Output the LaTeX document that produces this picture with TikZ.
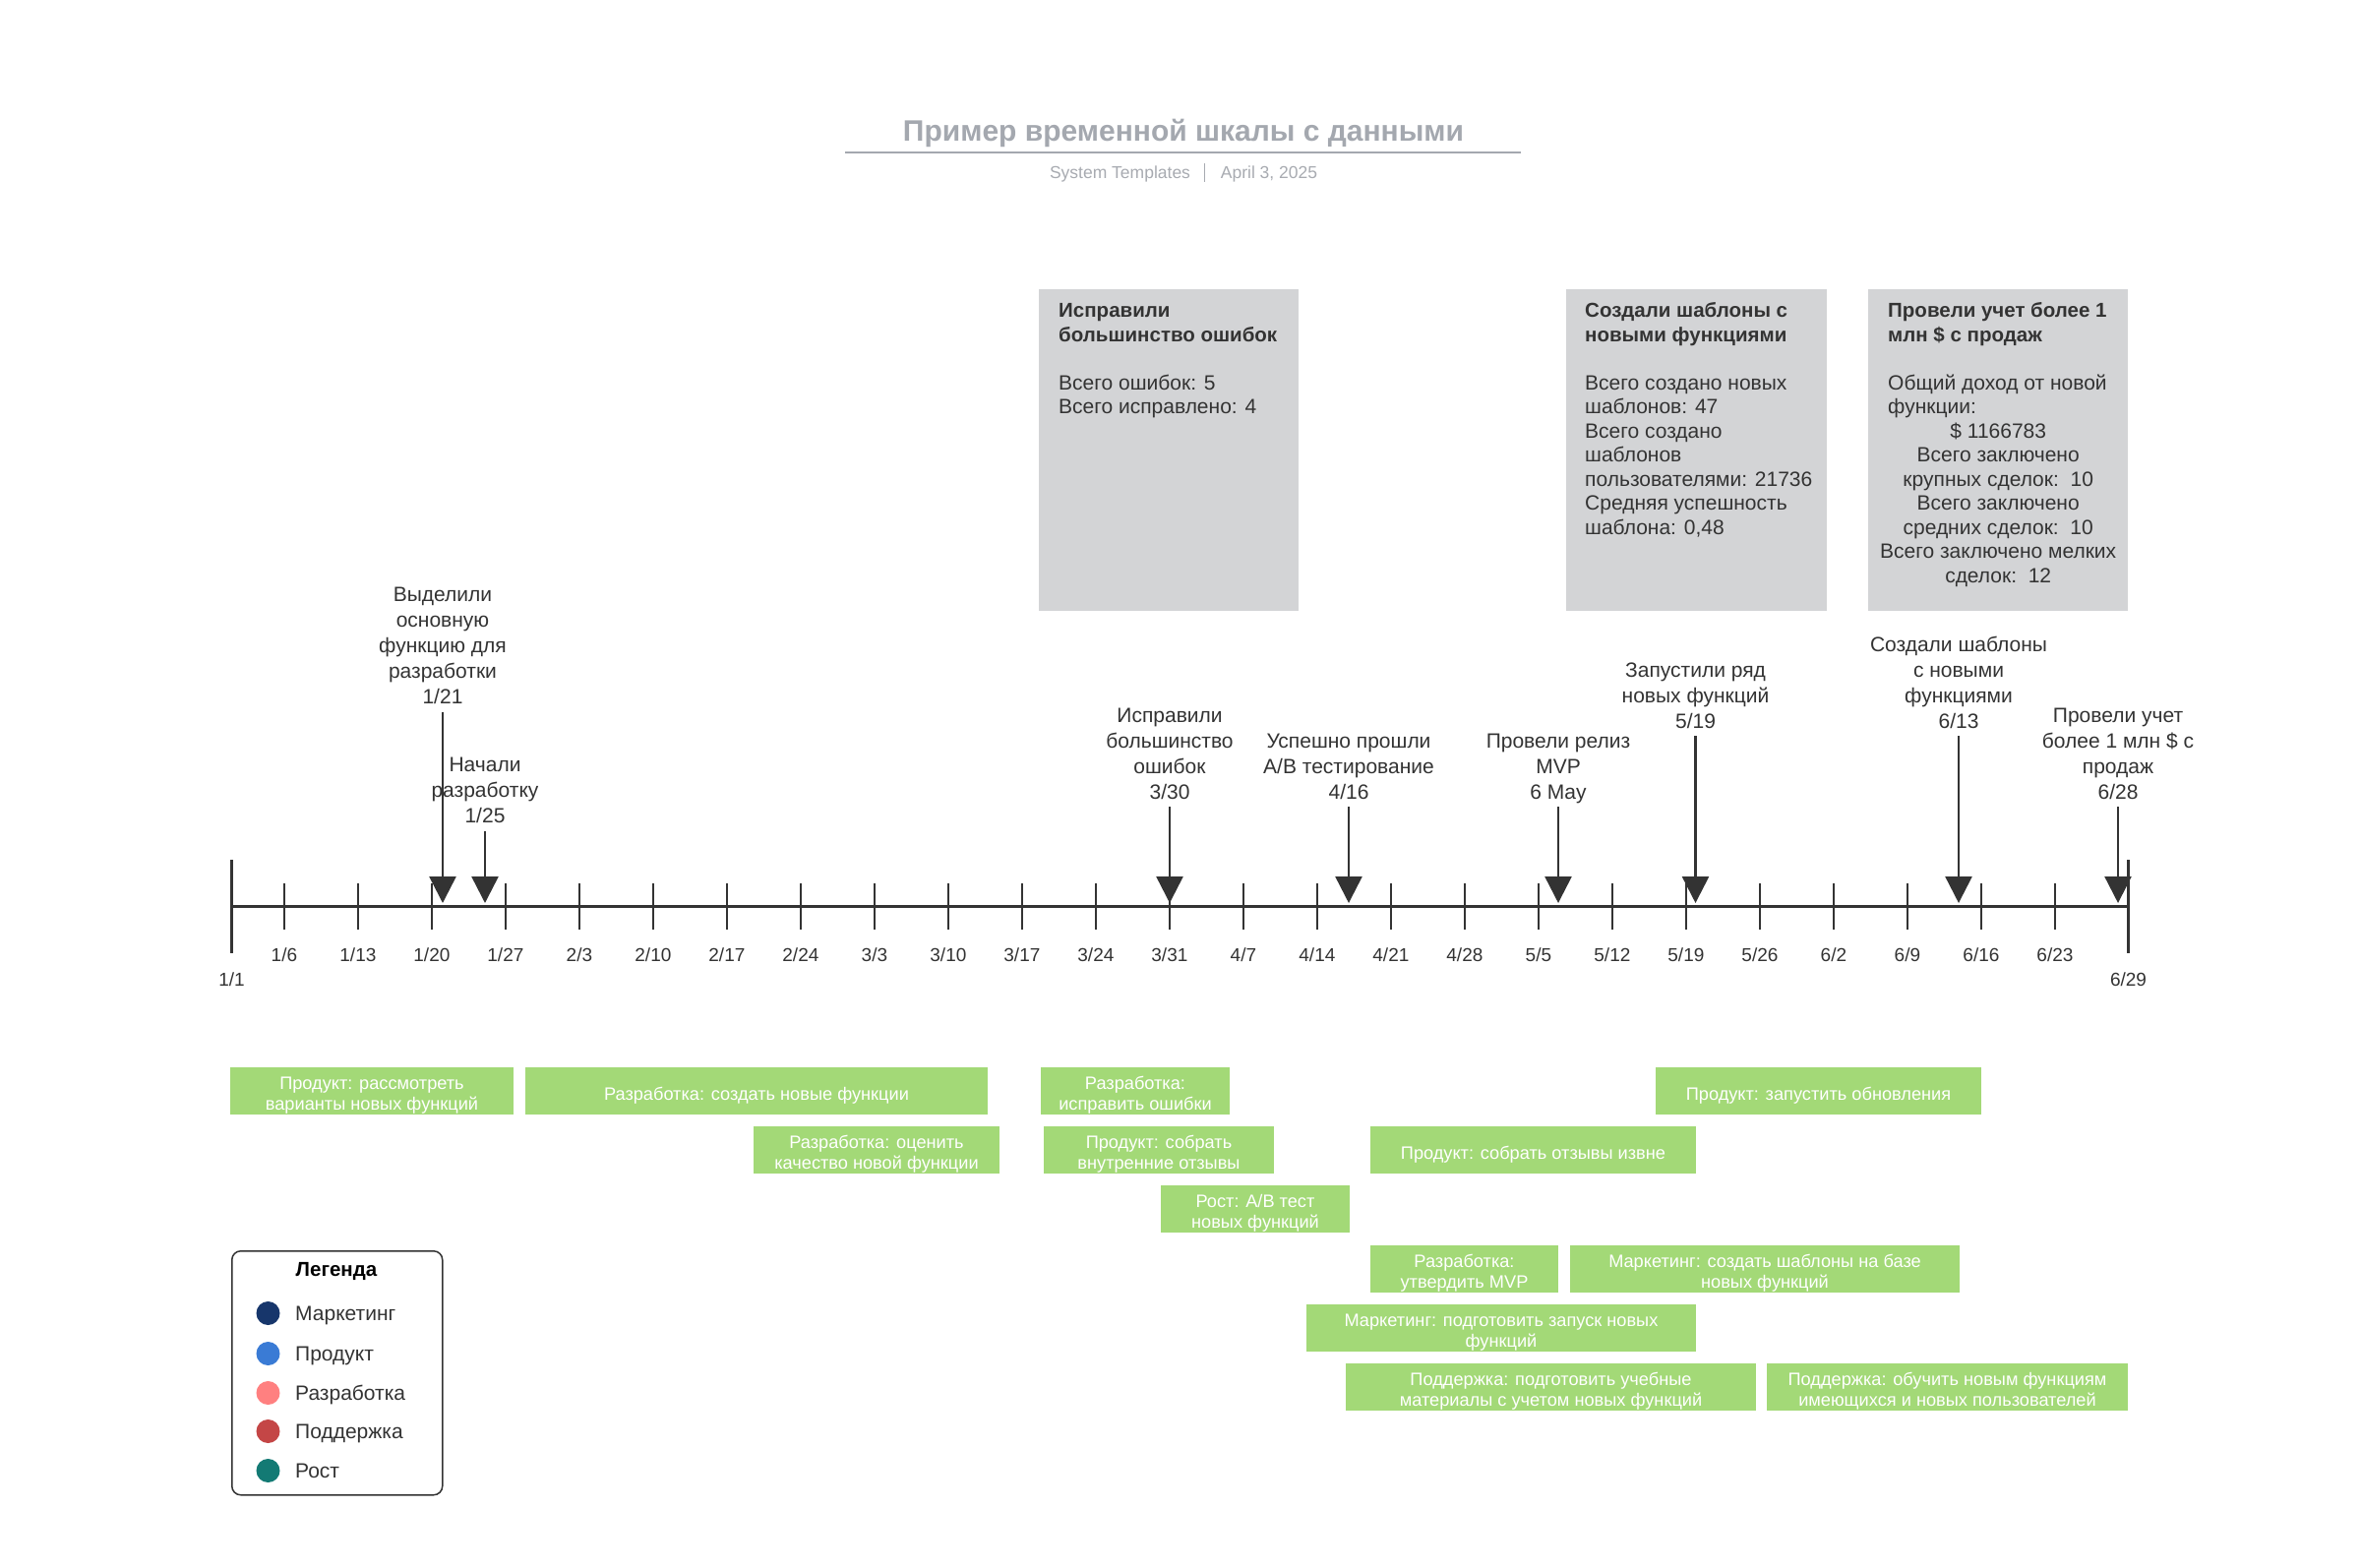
\documentclass[tikz,border=0pt]{standalone}
\usepackage{fontspec}
\setmainfont{Liberation Sans}
\usetikzlibrary{arrows.meta}
\definecolor{ink}{HTML}{333333}
\definecolor{boxgray}{HTML}{D3D4D6}
\definecolor{taskgreen}{HTML}{A3D977}
\definecolor{titlegray}{HTML}{A4A8AF}
\definecolor{subgray}{HTML}{A8ABB1}
\definecolor{cMark}{HTML}{17366B}
\definecolor{cProd}{HTML}{3A7BD5}
\definecolor{cDev}{HTML}{FF8080}
\definecolor{cSup}{HTML}{C44646}
\definecolor{cGrow}{HTML}{137A74}
\newcommand\tskup{\rule{0pt}{22pt}}
\newcommand\boxhead[1]{{\fontsize{20.5}{24.5}\selectfont\bfseries #1}}
\tikzset{
  evlabel/.style={font=\fontsize{21}{26}\selectfont, text=ink, align=center, inner sep=0pt, anchor=south},
  evarrow/.style={draw=ink, line width=2.5pt, -{Triangle[width=27pt,length=27pt]}},
  ticklbl/.style={font=\fontsize{19}{22}\selectfont, text=ink, anchor=base, inner sep=0pt},
  tickline/.style={draw=ink, line width=1.6pt},
  axisline/.style={draw=ink, line width=2.2pt},
  endline/.style={draw=ink, line width=3pt},
  task/.style={fill=taskgreen, text=white, font=\fontsize{18.2}{21}\selectfont, align=center, inner sep=0pt, minimum height=48.5pt},
  infobox/.style={fill=boxgray, inner sep=0pt, anchor=north west, minimum height=327pt},
  infotext/.style={font=\fontsize{21}{24.5}\selectfont, text=ink, inner sep=0pt},
  legtext/.style={font=\fontsize{21}{24}\selectfont, text=ink, inner sep=0pt, anchor=base west},
  legdot/.style={circle, inner sep=0pt, minimum size=24pt},
}
\begin{document}
\begin{tikzpicture}[x=1pt,y=-1pt]
\useasboundingbox (0,0) rectangle (2400,1593);
\fill[white] (0,0) rectangle (2400,1593);

% ---------- title ----------
\node[font=\bfseries\fontsize{30}{36}\selectfont, text=titlegray, anchor=base, inner sep=0pt] (title) at (1203,143) {Пример временной шкалы с данными};
\draw[titlegray, line width=2pt] (859,154.5) -- (1546,154.5);
\node[font=\fontsize{17.5}{20}\selectfont, text=subgray, anchor=base, inner sep=0pt] (sub1) at (1138.5,181.5) {System Templates};
\node[font=\fontsize{17.5}{20}\selectfont, text=subgray, anchor=base, inner sep=0pt] (sub2) at (1290,181.5) {April 3, 2025};
\draw[subgray, line width=1.2pt] (1224.5,166) -- (1224.5,185);

% ---------- info boxes ----------
\node[infobox, minimum width=264pt] (b1) at (1056,294) {};
\node[infobox, minimum width=265pt] (b2) at (1592,294) {};
\node[infobox, minimum width=264pt] (b3) at (1899,294) {};

\node[infotext, anchor=north west, align=left] (b1t) at ([xshift=20pt,yshift=-11.4pt]b1.north west)
 {\boxhead{Исправили}\strut\\\boxhead{большинство ошибок}\\[24.5pt]Всего ошибок: 5\\Всего исправлено: 4};
\node[infotext, anchor=north west, align=left] (b2t) at ([xshift=19pt,yshift=-11.4pt]b2.north west)
 {\boxhead{Создали шаблоны с}\strut\\\boxhead{новыми функциями}\\[24.5pt]Всего создано новых\\шаблонов: 47\\Всего создано\\шаблонов\\пользователями: 21736\\Средняя успешность\\шаблона: 0,48};
\node[infotext, anchor=north west, align=left] (b3t) at ([xshift=20pt,yshift=-11.4pt]b3.north west)
 {\boxhead{Провели учет более 1}\strut\\\boxhead{млн \$ с продаж}\\[24.5pt]Общий доход от новой\\функции:};
\node[infotext, anchor=north, align=center] (b3c) at ([yshift=-134pt]b3.north)
 {\strut\$ 1166783\\Всего заключено\\крупных сделок:~~10\\Всего заключено\\средних сделок:~~10\\Всего заключено мелких\\сделок:~~12};

% ---------- axis ----------
\coordinate (a0) at (235.5,921.5);
\coordinate (a1) at (2163.5,921.5);
\coordinate (tipline) at (0,918);
\draw[axisline] (a0) -- (a1);
\draw[endline] (235.5,874) -- (235.5,969);
\draw[endline] (2163.5,874) -- (2163.5,969);
\foreach \m/\d [count=\k from 0] in {1/6,1/13,1/20,1/27,2/3,2/10,2/17,2/24,3/3,3/10,3/17,3/24,3/31,4/7,4/14,4/21,4/28,5/5,5/12,5/19,5/26,6/2,6/9,6/16,6/23}{
  \pgfmathsetmacro\tx{288.9+75*\k}
  \draw[tickline] (\tx,898) -- (\tx,945);
  \node[ticklbl] (tl\k) at (\tx,977) {\m/\d};
}
\node[ticklbl] (tstart) at (235.5,1002.5) {1/1};
\node[ticklbl] (tend) at (2163.5,1002.5) {6/29};

% ---------- events ----------
\node[evlabel] (e1) at (450,723.5) {Выделили\\основную\\функцию для\\разработки\\1/21\strut};
\node[evlabel] (e2) at (493,844.5) {Начали\\разработку\\1/25\strut};
\node[evlabel] (e3) at (1189,820) {Исправили\\большинство\\ошибок\\3/30\strut};
\node[evlabel] (e4) at (1371,820) {Успешно прошли\\A/B тестирование\\4/16\strut};
\node[evlabel] (e5) at (1584,820) {Провели релиз\\MVP\\6 May\strut};
\node[evlabel] (e6) at (1723.5,748) {Запустили ряд\\новых функций\\5/19\strut};
\node[evlabel] (e7) at (1991,748) {Создали шаблоны\\с новыми\\функциями\\6/13\strut};
\node[evlabel] (e8) at (2153,820) {Провели учет\\более 1 млн \$ с\\продаж\\6/28\strut};
\foreach \e in {e1,e2,e3,e4,e5,e6,e7,e8}{
  \draw[evarrow] (\e.south) -- (\e.south |- tipline);
}

% ---------- tasks ----------
\node[task, minimum width=288pt] (t1) at (378,1109) {\tskup Продукт: рассмотреть\\варианты новых функций};
\node[task, minimum width=470pt] (t2) at (769,1109) {\tskup Разработка: создать новые функции};
\node[task, minimum width=250pt] (t3) at (891,1169) {\tskup Разработка: оценить\\качество новой функции};
\node[task, minimum width=192pt] (t4) at (1154,1109) {\tskup Разработка:\\исправить ошибки};
\node[task, minimum width=234pt] (t5) at (1178,1169) {\tskup Продукт: собрать\\внутренние отзывы};
\node[task, minimum width=192pt] (t6) at (1276,1229) {\tskup Рост: A/B тест\\новых функций};
\node[task, minimum width=331pt] (t7) at (1558.5,1169) {\tskup Продукт: собрать отзывы извне};
\node[task, minimum width=331pt] (t8) at (1848.5,1109) {\tskup Продукт: запустить обновления};
\node[task, minimum width=191pt] (t9) at (1488.5,1290) {\tskup Разработка:\\утвердить MVP};
\node[task, minimum width=396pt] (t10) at (1794,1290) {\tskup Маркетинг: создать шаблоны на базе\\новых функций};
\node[task, minimum width=396pt] (t11) at (1526,1350) {\tskup Маркетинг: подготовить запуск новых\\функций};
\node[task, minimum width=417pt] (t12) at (1576.5,1410) {\tskup Поддержка: подготовить учебные\\материалы с учетом новых функций};
\node[task, minimum width=367pt] (t13) at (1979.5,1410) {\tskup Поддержка: обучить новым функциям\\имеющихся и новых пользователей};

% ---------- legend ----------
\node[draw=ink, line width=1.5pt, rounded corners=9pt, inner sep=0pt, minimum width=214pt, minimum height=248pt, anchor=north west] (leg) at (235,1271) {};
\node[font=\bfseries\fontsize{20.5}{24}\selectfont, text=black, anchor=base, inner sep=0pt] (legt) at (342,1297) {Легенда};
\node[legdot, fill=cMark] (d1) at (272.5,1335) {};
\node[legdot, fill=cProd] (d2) at (272.5,1376) {};
\node[legdot, fill=cDev]  (d3) at (272.5,1416) {};
\node[legdot, fill=cSup]  (d4) at (272.5,1455) {};
\node[legdot, fill=cGrow] (d5) at (272.5,1495) {};
\node[legtext] (l1) at (300,1342.5) {Маркетинг};
\node[legtext] (l2) at (300,1383.5) {Продукт};
\node[legtext] (l3) at (300,1423.5) {Разработка};
\node[legtext] (l4) at (300,1462.5) {Поддержка};
\node[legtext] (l5) at (300,1502.5) {Рост};
\end{tikzpicture}
\end{document}
